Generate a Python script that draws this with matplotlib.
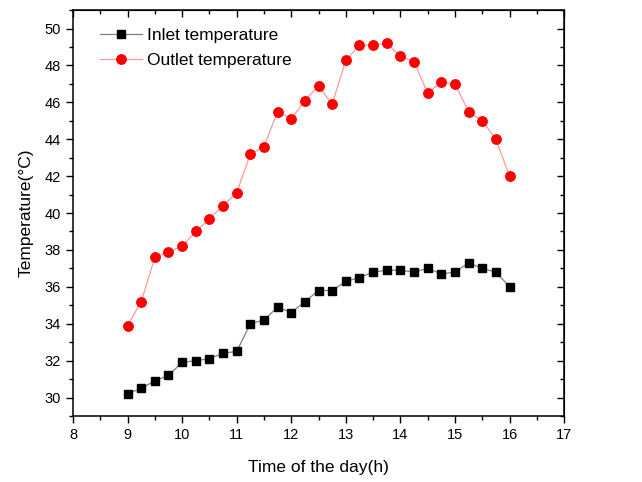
import numpy as np
import matplotlib.pyplot as plt
from matplotlib.ticker import MultipleLocator

plt.rcParams['font.family'] = ['Liberation Sans', 'DejaVu Sans']

# 측정 시각 (h)
time_h = [9.0, 9.25, 9.5, 9.75, 10.0, 10.25, 10.5, 10.75, 11.0, 11.25,
          11.5, 11.75, 12.0, 12.25, 12.5, 12.75, 13.0, 13.25, 13.5, 13.75,
          14.0, 14.25, 14.5, 14.75, 15.0, 15.25, 15.5, 15.75, 16.0]

inlet_temp = [30.2, 30.5, 30.9, 31.2, 31.9, 32.0, 32.1, 32.4, 32.5, 34.0,
              34.2, 34.9, 34.6, 35.2, 35.8, 35.8, 36.3, 36.5, 36.8, 36.9,
              36.9, 36.8, 37.0, 36.7, 36.8, 37.3, 37.0, 36.8, 36.0]

outlet_temp = [33.9, 35.2, 37.6, 37.9, 38.2, 39.0, 39.7, 40.4, 41.1, 43.2,
               43.6, 45.5, 45.1, 46.1, 46.9, 45.9, 48.3, 49.1, 49.1, 49.2,
               48.5, 48.2, 46.5, 47.1, 47.0, 45.5, 45.0, 44.0, 42.0]

fig = plt.figure(figsize=(6.42, 4.82), dpi=100)
ax = fig.add_axes([0.1137, 0.137, 0.765, 0.842])

ax.plot(time_h, inlet_temp, color='#808080', lw=0.9, marker='s', ms=5.5,
        mfc='black', mec='black', label='Inlet temperature')
ax.plot(time_h, outlet_temp, color='#ff9a9a', lw=0.9, marker='o', ms=6.8,
        mfc='red', mec='red', label='Outlet temperature')

ax.set_xlim(8, 17)
ax.set_ylim(29, 51)
ax.xaxis.set_major_locator(MultipleLocator(1))
ax.xaxis.set_minor_locator(MultipleLocator(0.5))
ax.yaxis.set_major_locator(MultipleLocator(2))
ax.yaxis.set_minor_locator(MultipleLocator(1))
ax.set_yticks(np.arange(30, 51, 2))

ax.tick_params(which='both', direction='out', top=False, right=False, labelsize=10.5, width=1)
ax.tick_params(which='major', length=5)
ax.tick_params(which='minor', length=3)

# 위/오른쪽 축 눈금 (안쪽)
ax_top = ax.secondary_xaxis('top')
ax_top.xaxis.set_major_locator(MultipleLocator(1))
ax_top.xaxis.set_minor_locator(MultipleLocator(0.5))
ax_top.tick_params(which='both', direction='in', labeltop=False, width=1)
ax_top.tick_params(which='major', length=5)
ax_top.tick_params(which='minor', length=3)
ax_right = ax.secondary_yaxis('right')
ax_right.yaxis.set_major_locator(MultipleLocator(2))
ax_right.yaxis.set_minor_locator(MultipleLocator(1))
ax_right.tick_params(which='both', direction='in', labelright=False, width=1)
ax_right.tick_params(which='major', length=5)
ax_right.tick_params(which='minor', length=3)

for s in ax.spines.values():
    s.set_linewidth(1.1)

ax.set_xlabel('Time of the day(h)', fontsize=12.5, labelpad=13)
ax.set_ylabel('Temperature(°C)', fontsize=12.5, labelpad=8)

ax.legend(loc='upper left', frameon=False, fontsize=12.5, handlelength=2.4,
          handletextpad=0.3, borderaxespad=0.6, labelspacing=0.6,
          bbox_to_anchor=(0.02, 1.0))

fig.savefig('out.png', dpi=100)
